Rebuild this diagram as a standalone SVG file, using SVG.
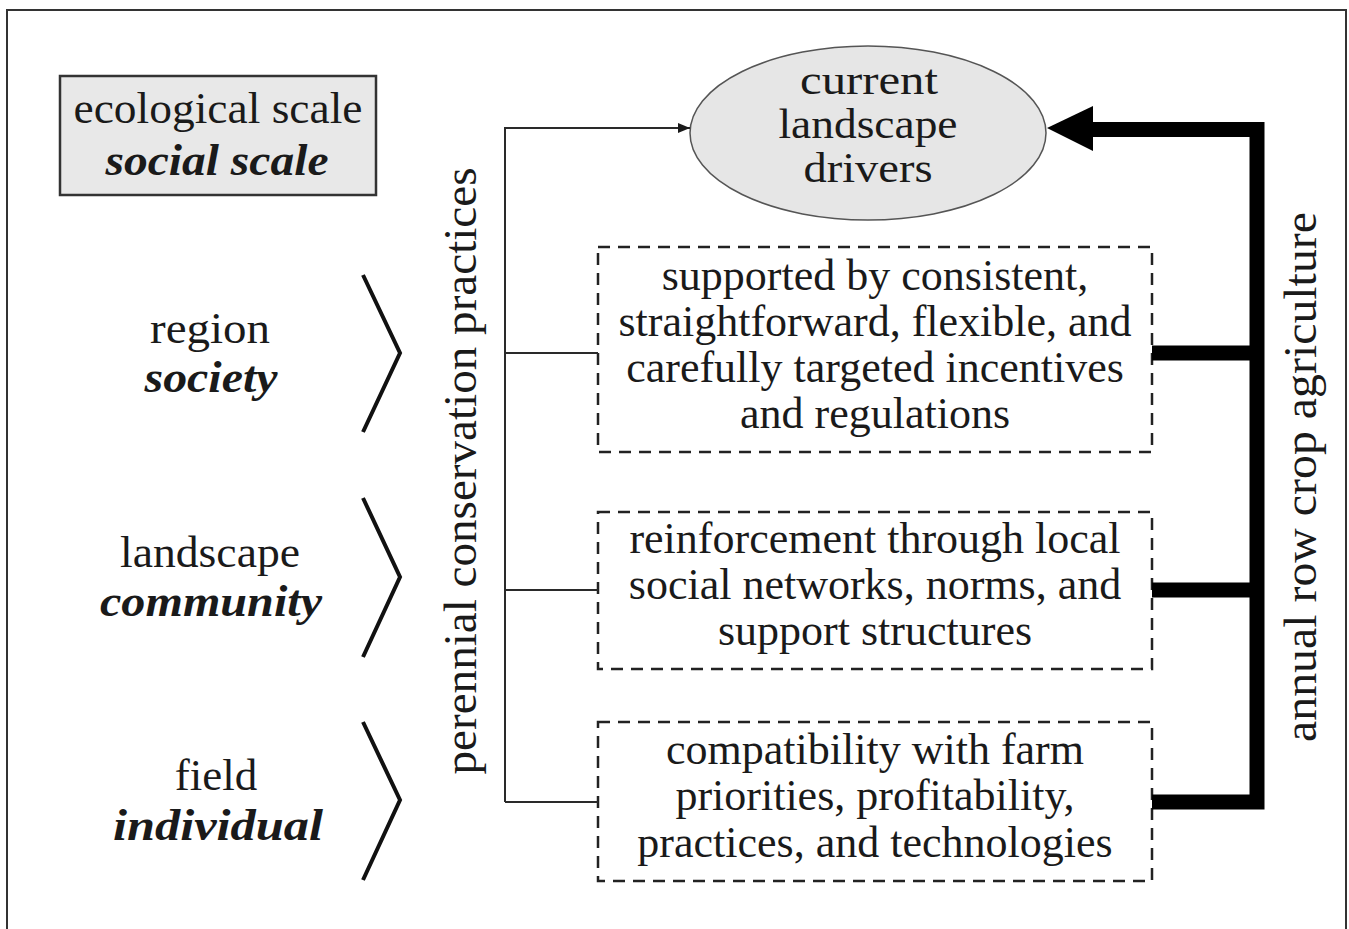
<svg xmlns="http://www.w3.org/2000/svg" width="1349" height="929" viewBox="0 0 1349 929">
<style>
  text { font-family: "Liberation Serif", "Times New Roman", serif; fill: #1a1a1a; text-anchor: middle; }
  .t45 { font-size: 45px; }
  .t44 { font-size: 44px; }
  .t42 { font-size: 42px; }
  .t47 { font-size: 47px; }
  .bi { font-weight: bold; font-style: italic; }
  .dash { fill: #ffffff; stroke: #222; stroke-width: 2.5; stroke-dasharray: 12 8; }
  .thin { fill: none; stroke: #2a2a2a; stroke-width: 2; }
  .thick { fill: none; stroke: #000; stroke-width: 15; }
  .chev { fill: none; stroke: #111; stroke-width: 4; stroke-linejoin: miter; }
</style>
<defs>
  <marker id="arrSmall" viewBox="0 0 12 10" refX="12" refY="5" markerWidth="12" markerHeight="10" markerUnits="userSpaceOnUse" orient="auto">
    <path d="M0,0 L12,5 L0,10 Z" fill="#1a1a1a"/>
  </marker>
</defs>
<rect x="0" y="0" width="1349" height="929" fill="#ffffff"/>
<rect x="7" y="10" width="1339" height="940" fill="#ffffff" stroke="#333" stroke-width="2"/>

<g id="legend">
  <rect x="60" y="76" width="316" height="119" fill="#e8e8e8" stroke="#333" stroke-width="2.5"/>
  <text class="t45" x="218" y="123" textLength="289" lengthAdjust="spacingAndGlyphs">ecological scale</text>
  <text class="t45 bi" x="217" y="175" textLength="223" lengthAdjust="spacingAndGlyphs">social scale</text>
</g>

<g id="scale-region">
  <text class="t45" x="210" y="343" textLength="120" lengthAdjust="spacingAndGlyphs">region</text>
  <text class="t45 bi" x="211" y="392" textLength="133" lengthAdjust="spacingAndGlyphs">society</text>
  <polyline class="chev" points="363,275 400,353 363,432"/>
</g>
<g id="scale-landscape">
  <text class="t45" x="210" y="567" textLength="180" lengthAdjust="spacingAndGlyphs">landscape</text>
  <text class="t45 bi" x="211" y="616" textLength="222" lengthAdjust="spacingAndGlyphs">community</text>
  <polyline class="chev" points="363,498 400,577 363,657"/>
</g>
<g id="scale-field">
  <text class="t45" x="216" y="790">field</text>
  <text class="t45 bi" x="218" y="840" textLength="210" lengthAdjust="spacingAndGlyphs">individual</text>
  <polyline class="chev" points="363,722 400,800 363,880"/>
</g>

<g id="label-perennial">
  <text class="t47" transform="translate(476,471) rotate(-90)" x="0" y="0" textLength="607" lengthAdjust="spacingAndGlyphs">perennial conservation practices</text>
</g>
<g id="label-annual">
  <text class="t47" transform="translate(1316,477) rotate(-90)" x="0" y="0" textLength="530" lengthAdjust="spacingAndGlyphs">annual row crop agriculture</text>
</g>

<g id="drivers">
  <ellipse cx="868" cy="133" rx="178" ry="87" fill="#e6e6e6" stroke="#555" stroke-width="1.5"/>
  <text class="t42" x="869" y="94" textLength="138" lengthAdjust="spacingAndGlyphs">current</text>
  <text class="t42" x="868" y="138" textLength="179" lengthAdjust="spacingAndGlyphs">landscape</text>
  <text class="t42" x="868" y="182" textLength="129" lengthAdjust="spacingAndGlyphs">drivers</text>
</g>

<g id="box-society">
  <rect class="dash" x="598" y="247" width="554" height="205"/>
  <text class="t44" x="875" y="290">supported by consistent,</text>
  <text class="t44" x="875" y="336">straightforward, flexible, and</text>
  <text class="t44" x="875" y="382">carefully targeted incentives</text>
  <text class="t44" x="875" y="428">and regulations</text>
</g>
<g id="box-community">
  <rect class="dash" x="598" y="512" width="554" height="157"/>
  <text class="t44" x="875" y="553">reinforcement through local</text>
  <text class="t44" x="875" y="599">social networks, norms, and</text>
  <text class="t44" x="875" y="645">support structures</text>
</g>
<g id="box-individual">
  <rect class="dash" x="598" y="722" width="554" height="159"/>
  <text class="t44" x="875" y="764">compatibility with farm</text>
  <text class="t44" x="875" y="810">priorities, profitability,</text>
  <text class="t44" x="875" y="857">practices, and technologies</text>
</g>

<g id="connectors">
  <path class="thin" d="M505,802 L505,128 L690,128" marker-end="url(#arrSmall)"/>
  <path class="thin" d="M505,353 L598,353"/>
  <path class="thin" d="M505,590 L598,590"/>
  <path class="thin" d="M505,802 L598,802"/>
  <path class="thick" d="M1152,802 L1257,802 L1257,129.5 L1085,129.5" stroke-linejoin="miter"/>
  <path class="thick" d="M1152,353 L1257,353"/>
  <path class="thick" d="M1152,590 L1257,590"/>
  <polygon points="1047,128 1093,106 1093,151" fill="#000"/>
</g>
</svg>
